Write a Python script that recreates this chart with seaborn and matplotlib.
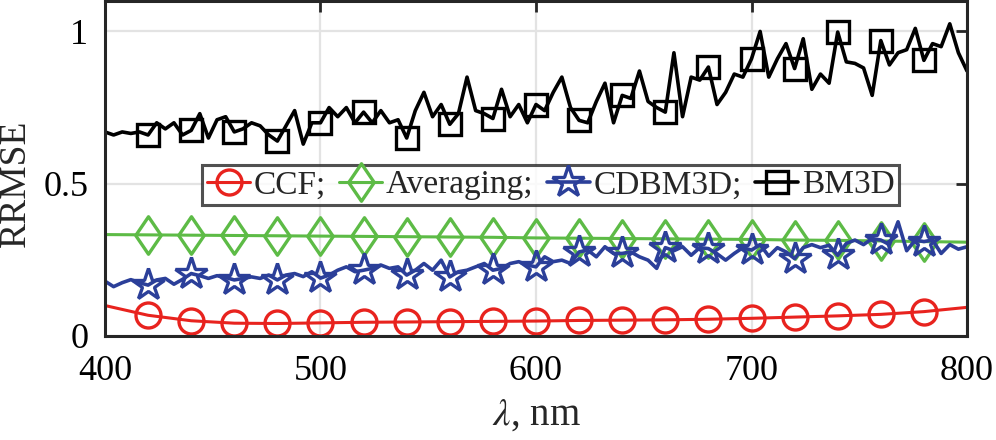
import numpy as np
import pandas as pd
import seaborn as sns
import matplotlib
matplotlib.use("Agg")
import matplotlib.pyplot as plt
from matplotlib.path import Path

# Wavelength grids (nm)
wl_fine = list(range(400, 801, 4))      # noisy estimators
wl_coarse = list(range(400, 801, 20))   # smooth estimators

ccf = [0.100, 0.068, 0.050, 0.042, 0.041, 0.043, 0.045, 0.046, 0.047, 0.048,
       0.049, 0.051, 0.052, 0.053, 0.055, 0.058, 0.062, 0.066, 0.071, 0.080, 0.094]

averaging = [0.333, 0.332, 0.331, 0.330, 0.329, 0.328, 0.327, 0.326, 0.325, 0.324,
             0.322, 0.321, 0.320, 0.319, 0.318, 0.317, 0.315, 0.314, 0.312, 0.310, 0.308]

cdbm3d = [0.180, 0.162, 0.175, 0.185, 0.175, 0.167, 0.184, 0.189, 0.170, 0.186,
          0.205, 0.198, 0.189, 0.198, 0.192, 0.184, 0.189, 0.194, 0.189, 0.200,
          0.184, 0.200, 0.205, 0.195, 0.211, 0.190, 0.200, 0.216, 0.227, 0.211,
          0.216, 0.222, 0.233, 0.222, 0.227, 0.200, 0.216, 0.238, 0.216, 0.249,
          0.194, 0.211, 0.216, 0.227, 0.238, 0.216, 0.222, 0.238, 0.244, 0.233,
          0.227, 0.260, 0.244, 0.249, 0.238, 0.276, 0.282, 0.260, 0.293, 0.271,
          0.271, 0.276, 0.260, 0.249, 0.222, 0.290, 0.280, 0.293, 0.265, 0.290,
          0.287, 0.270, 0.249, 0.271, 0.290, 0.282, 0.300, 0.262, 0.290, 0.276,
          0.254, 0.290, 0.300, 0.290, 0.298, 0.265, 0.304, 0.315, 0.300, 0.320,
          0.315, 0.300, 0.375, 0.280, 0.315, 0.310, 0.315, 0.271, 0.300, 0.285,
          0.293]

bm3d = [0.670, 0.660, 0.670, 0.665, 0.670, 0.660, 0.700, 0.680, 0.700, 0.660,
        0.675, 0.730, 0.650, 0.710, 0.720, 0.670, 0.680, 0.700, 0.690, 0.660,
        0.640, 0.690, 0.740, 0.630, 0.700, 0.700, 0.750, 0.720, 0.750, 0.700,
        0.735, 0.700, 0.740, 0.700, 0.710, 0.650, 0.740, 0.800, 0.720, 0.760,
        0.695, 0.730, 0.850, 0.740, 0.730, 0.714, 0.810, 0.720, 0.760, 0.700,
        0.760, 0.740, 0.800, 0.850, 0.750, 0.708, 0.700, 0.770, 0.830, 0.700,
        0.790, 0.780, 0.870, 0.770, 0.750, 0.735, 0.930, 0.720, 0.850, 0.840,
        0.883, 0.760, 0.800, 0.860, 0.850, 0.910, 1.000, 0.850, 0.910, 0.960,
        0.878, 0.976, 0.810, 0.860, 0.830, 0.998, 0.900, 0.895, 0.880, 0.790,
        0.970, 0.890, 0.930, 0.940, 1.010, 0.905, 0.960, 0.950, 1.025, 0.930,
        0.870]

names = ["CCF;", "Averaging;", "CDBM3D;", "BM3D"]
colors = ["#E8231E", "#5DBB46", "#2B3F99", "#000000"]

df_ccf = pd.DataFrame({"wl": wl_coarse, "rrmse": ccf})
df_avg = pd.DataFrame({"wl": wl_coarse, "rrmse": averaging})
df_cd = pd.DataFrame({"wl": wl_fine, "rrmse": cdbm3d})
df_bm = pd.DataFrame({"wl": wl_fine, "rrmse": bm3d})

sns.set_theme(style="white")
plt.rcParams["font.family"] = ["Liberation Serif", "DejaVu Serif"]
plt.rcParams["mathtext.fontset"] = "stix"

fig = plt.figure(figsize=(9.96, 4.40), dpi=100)
ax = fig.add_axes([0.1054, 0.2364, 0.8655, 0.7614])

tall_diamond = Path([(0, 1), (0.68, 0), (0, -1), (-0.68, 0), (0, 1)],
                    [Path.MOVETO, Path.LINETO, Path.LINETO, Path.LINETO, Path.CLOSEPOLY])

common = dict(ax=ax, x="wl", y="rrmse", legend=False, mfc="none", mew=2.4)
sns.lineplot(data=df_ccf, color=colors[0], lw=2.2, marker="o", ms=18,
             markevery=slice(1, 20), mec=colors[0], label=names[0], **common)
sns.lineplot(data=df_avg, color=colors[1], lw=2.2, marker=tall_diamond, ms=27,
             markevery=slice(1, 20), mec=colors[1], label=names[1], **common)
sns.lineplot(data=df_cd, color=colors[2], lw=2.6, marker="*", ms=24,
             markevery=slice(5, 96, 5), mec=colors[2], label=names[2], **common)
sns.lineplot(data=df_bm, color=colors[3], lw=2.6, marker="s", ms=16,
             markevery=slice(5, 96, 5), mec=colors[3], label=names[3], **common)

ax.set_xlim(400, 800)
ax.set_ylim(0, 1.1)
ax.set_xticks([400, 500, 600, 700, 800])
ax.set_yticks([0, 0.5, 1])
ax.set_yticklabels(["0", "0.5", "1"])
ax.grid(True, color="#E3E3E3", lw=1.6)
ax.set_axisbelow(True)
for s in ax.spines.values():
    s.set_color("#262626")
    s.set_linewidth(2.2)
ax.tick_params(axis="both", which="both", direction="in", length=8, width=2.0,
               top=True, right=True, labelsize=26, colors="#262626",
               labelcolor="black")
ax.tick_params(axis="x", pad=14)
ax.tick_params(axis="y", pad=12)
ax.set_xlabel(r"$\lambda$, nm", fontsize=28, labelpad=6)
ax.set_ylabel("RRMSE", fontsize=27)
ax.yaxis.set_label_coords(-0.084, 0.457)

leg = ax.legend(loc="center", bbox_to_anchor=(0.517, 0.45), ncol=4, fontsize=24,
                frameon=True, fancybox=False, handlelength=1.3, handletextpad=0.1,
                columnspacing=0.4, borderpad=0.15, borderaxespad=0.0)
leg.get_frame().set_edgecolor("#262626")
leg.get_frame().set_linewidth(2.2)

fig.savefig("out.png", dpi=100)
